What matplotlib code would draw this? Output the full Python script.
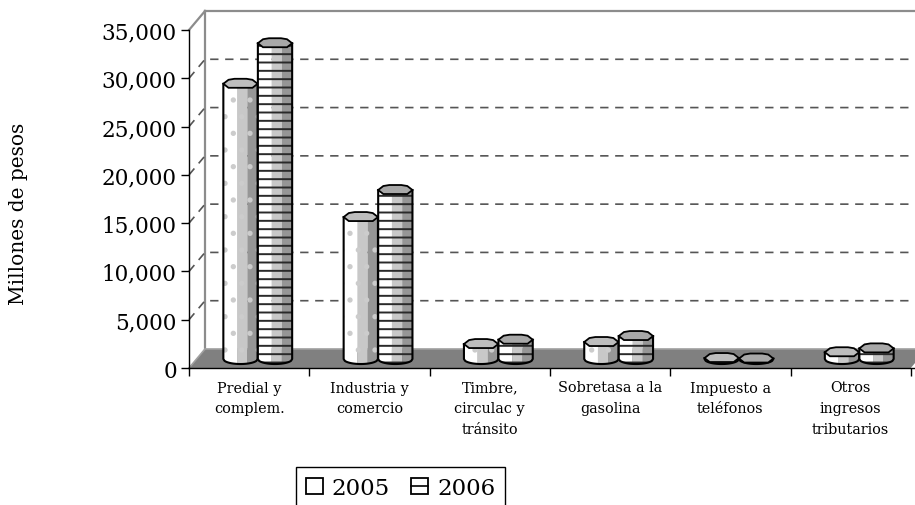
import numpy as np
import matplotlib
matplotlib.use("Agg")
import matplotlib.pyplot as plt
from matplotlib.patches import Polygon, Patch
from matplotlib.lines import Line2D
from matplotlib.legend_handler import HandlerTuple

categories = ["Predial y\ncomplem.", "Industria y\ncomercio", "Timbre,\ncirculac y\ntránsito",
              "Sobretasa a la\ngasolina", "Impuesto a\nteléfonos", "Otros\ningresos\ntributarios"]
years = ["2005", "2006"]
v2005 = [28500, 14700, 1550, 1760, 100, 700]
v2006 = [32700, 17500, 2000, 2380, 50, 1100]
yticks = [0, 5000, 10000, 15000, 20000, 25000, 30000, 35000]

W, H = 915, 506
plt.rcParams['font.family'] = ['DejaVu Serif']
plt.rcParams['hatch.linewidth'] = 1.4

fig = plt.figure(figsize=(W / 100, H / 100), dpi=100)
ax = fig.add_axes([189 / W, 1 - 369 / H, (915 - 189) / W, (369 - 31) / H])
cat_w = 120.3
ax.set_xlim(0, (915 - 189) / cat_w)
ax.set_ylim(0, 35000)
px = 1 / cat_w
py = 35000 / 338.0
dx, dy = 16 * px, 19 * py

for s in ['top', 'right']:
    ax.spines[s].set_visible(False)
for s in ['left', 'bottom']:
    ax.spines[s].set_linewidth(1.0)

ax.set_yticks(yticks)
ax.set_yticklabels(["{:,}".format(t) for t in yticks], fontsize=15.5)
ax.tick_params(axis='y', length=5.8, width=1, pad=3)

ax.set_xticks(range(7))
ax.set_xticklabels([])
ax.set_xticks(np.arange(6) + 0.5, minor=True)
ax.set_xticklabels(categories, minor=True, fontsize=10.4, linespacing=1.6)
ax.tick_params(axis='x', which='major', length=5.5, width=1)
ax.tick_params(axis='x', which='minor', length=0, pad=9)

ax.set_ylabel("Millones de pesos", fontsize=14.5, labelpad=0)
ax.yaxis.set_label_coords(-161 / (915 - 189), 0.46)

xmax = ax.get_xlim()[1]
# floor
floor = Polygon([(0, 0), (dx, dy), (xmax, dy), (xmax, 5 * py), (6, 0)], closed=True,
                fc='#808080', ec='none', zorder=1, clip_on=False)
ax.add_patch(floor)
# back wall
ax.plot([dx, dx], [dy, 35000 + dy], color='#8c8c8c', lw=1.6, zorder=1.5, clip_on=False)
ax.plot([dx, xmax], [35000 + dy, 35000 + dy], color='#8c8c8c', lw=1.6, zorder=1.5, clip_on=False)
ax.plot([0, dx], [35000, 35000 + dy], color='#8c8c8c', lw=1.6, zorder=1.5, clip_on=False)
ax.plot([dx, xmax], [dy, dy], color='#a0a0a0', lw=1.2, zorder=1.5, clip_on=False)
ax.plot([0, dx], [0, dy], color='#a0a0a0', lw=1.2, zorder=1.5, clip_on=False)
# dashed grid
for t in yticks[1:-1]:
    ax.plot([0, dx, xmax], [t, t + dy, t + dy], color='#555555', lw=1.2,
            linestyle=(0, (5, 4)), zorder=1.6, clip_on=False)

bar_w = 0.285
base = 930
cap = 5 * py
strips = [(0.0, 0.40, 'white'), (0.40, 0.70, '#c8c8c8'), (0.70, 1.0, '#969696')]
# the caps are drawn as rough octagons
cap_x = [-1, -0.7, -0.35, 0.35, 0.7, 1, 0.7, -0.7]
cap_y = [0, 0.8, 1, 1, 0.8, 0, -0.8, -0.8]


def bottom_arc(xc, f):
    u = 2 * f - 1
    return xc + u * bar_w / 2, base - cap * np.sqrt(1 - u ** 2)


def cylinder(xc, value, hatch, hatch_col, top_col, z):
    top = base + value
    for f0, f1, col in strips:
        fs = np.linspace(f0, f1, 12)
        xs, ys = bottom_arc(xc, fs)
        pts = [(xs[0], top)] + list(zip(xs, ys)) + [(xs[-1], top)]
        ax.add_patch(Polygon(pts, closed=True, fc=col, ec='none', zorder=z))
    fs = np.linspace(0, 1, 30)
    xs, ys = bottom_arc(xc, fs)
    pts = [(xs[0], top)] + list(zip(xs, ys)) + [(xs[-1], top)]
    ax.add_patch(Polygon(pts, closed=True, fc='none', ec=hatch_col, lw=0, hatch=hatch, zorder=z + 0.1))
    ax.plot([xs[0]] + list(xs) + [xs[-1]], [top] + list(ys) + [top], color='black', lw=1.5, zorder=z + 0.2)
    oct_pts = [(xc + a * bar_w / 2, top + b * cap) for a, b in zip(cap_x, cap_y)]
    ax.add_patch(Polygon(oct_pts, closed=True, fc=top_col, ec='black', lw=1.3, zorder=z + 0.3))


for i in range(6):
    cylinder(i + 0.428, v2005[i], '.', '#cccccc', '#bdbdbd', 3 + i)
    cylinder(i + 0.715, v2006[i], '--', '#2a2a2a', '#a8a8a8', 3.5 + i)

h1 = Patch(fc='white', ec='black', lw=1.3)
h2 = (Patch(fc='white', ec='black', lw=1.3), Line2D([], [], color='black', lw=1.2))
leg = fig.legend(handles=[h1, h2], labels=years, ncol=2, loc='upper left',
                 handler_map={tuple: HandlerTuple(ndivide=1, pad=0)},
                 bbox_to_anchor=(296 / W, 1 - 468 / H), bbox_transform=fig.transFigure,
                 fontsize=16.5, fancybox=False, framealpha=1, edgecolor='black',
                 borderaxespad=0, borderpad=0.42, columnspacing=0.95, handletextpad=0.38,
                 handlelength=0.74, handleheight=0.7)
leg.get_frame().set_linewidth(1.0)

fig.savefig("out.png", dpi=100)
